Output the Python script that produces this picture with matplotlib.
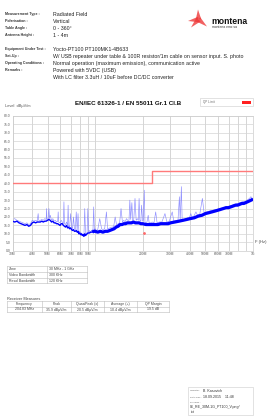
import matplotlib
matplotlib.use("Agg")
import matplotlib.pyplot as plt
from matplotlib.patches import Rectangle, Polygon
from matplotlib.lines import Line2D
import numpy as np

plt.rcParams['font.family'] = ['Liberation Sans', 'DejaVu Sans']

W, H = 270, 416

# ---------------- data ----------------
header_labels = ["Measurement Type :", "Polarisation :", "Table Angle :", "Antenna Height :"]
header_values = ["Radiated Field", "Vertical", "0 - 360°", "1 - 4m"]
eut_labels = ["Equipment Under Test :", "Set-Up :", "Operating Conditions :", "Remarks :", ""]
eut_values = ["Yocto-PT100 PT100MK1-4B633",
              "W/ USB repeater under table & 100R resistor/1m cable on sensor input. S. photo",
              "Normal operation (maximum emission), communication active",
              "Powered with 5VDC (USB)",
              "With LC filter 3.3uH / 10uF before DC/DC converter"]

title = "EN/IEC 61326-1 / EN 55011 Gr.1 Cl.B"
y_ticks = [0, 5, 10, 15, 20, 25, 30, 35, 40, 45, 50, 55, 60, 65, 70, 75, 80]
x_grid_mhz = [30, 40, 50, 60, 70, 80, 90, 100, 200, 300, 400, 500, 600, 700, 800, 900, 1000]
x_tick_mhz = [30, 40, 50, 60, 70, 80, 90, 200, 300, 400, 500, 600, 700, 1000]
x_tick_labels = ["30M", "40M", "50M", "60M", "70M", "80M", "90M", "200M", "300M",
                 "400M", "500M", "600M", "700M", "1G"]

limit_freq = [30, 230, 230, 1000]
limit_level = [40, 40, 47, 47]

peak_freq = [30, 31, 32, 33, 34, 35, 36, 37, 38, 39, 40, 41, 42, 43, 43.6, 44, 45, 46, 47, 48,
             49, 49.3, 49.6, 50.5, 51, 51.5, 52, 53, 54, 55, 56, 57, 58, 58.4, 58.8, 60, 61, 62,
             63, 63.5, 64, 65, 66, 67, 67.5, 68, 69, 70, 71, 72, 73, 74, 75, 76, 77, 78, 79, 80,
             81, 82, 83, 84, 85, 86, 87, 88, 89, 90, 91, 92, 93, 95, 97, 98, 99, 100, 102, 104,
             107, 110, 112, 115, 118, 120, 124, 128, 131, 134, 137, 140, 143, 146, 149, 152, 155,
             158, 161, 164, 166, 168, 171, 173, 176, 179, 182, 185, 188, 190, 192, 195, 197, 200,
             202, 204.83, 207, 210, 213, 217, 220, 225, 230, 236, 242, 247, 255, 265, 277, 285,
             295, 308, 315, 325, 335, 342, 346, 352, 356, 365, 375, 385, 395, 404, 410, 420, 435,
             445, 460, 478, 490, 510, 530, 560, 590, 620, 650, 680, 710, 740, 770, 800, 830, 860,
             890, 920, 950, 970, 985, 1000]
peak_level = [18.5, 19, 18, 17.5, 17, 16.5, 16, 16.5, 15.5, 16, 18, 17.5, 18, 17.5, 22, 18, 18,
              18.5, 18, 19, 18.5, 25, 18.5, 19, 25, 19, 21, 18, 19, 17.5, 18, 17, 17.5, 23, 17,
              16.5, 18, 17, 16, 29, 16, 15.5, 17, 15, 27, 15, 14, 22, 14, 13, 20, 13, 12.5, 23,
              12, 22, 11, 11.5, 10, 10.5, 9.5, 10, 9, 25, 10, 9.5, 11, 25, 11, 12, 11, 12, 12.5,
              26, 12, 13, 12, 12.5, 19, 13, 12.5, 13, 23, 13, 13.5, 14, 14, 20, 15, 16, 16.5, 25,
              17, 18, 17, 19, 18, 18, 30, 18.5, 28.5, 18, 19, 31, 18, 19, 18, 31, 18, 17.5, 27,
              17.5, 18, 35.9, 17, 16.5, 17, 21, 16.5, 16.5, 17, 16.5, 23, 16.5, 17, 17, 22, 17,
              17.5, 23, 17.5, 18, 18, 32, 18, 38, 18, 18.5, 19, 19.5, 19.5, 22, 20, 20, 23, 21,
              21.5, 31, 22.5, 23, 23.5, 24, 24.5, 25, 25.5, 26, 26.5, 27, 27.5, 28, 28.5, 29, 29,
              30, 31, 32, 31, 31]

avg_freq = [30, 31, 32, 33, 34, 35, 36, 37, 38, 39, 40, 41, 42, 43, 44, 45, 46, 47, 48, 49, 50,
            51, 52, 53, 54, 55, 56, 57, 58, 59, 60, 61, 62, 63, 64, 65, 66, 67, 68, 69, 70, 71,
            72, 73, 74, 75, 76, 77, 78, 79, 80, 81, 82, 83, 84, 85, 86, 87, 88, 89, 90, 92, 94,
            96, 98, 100, 104, 108, 112, 116, 120, 124, 128, 132, 136, 140, 144, 148, 152, 156,
            160, 165, 170, 175, 180, 185, 190, 195, 200, 210, 220, 230, 240, 250, 260, 270, 280,
            290, 300, 320, 340, 360, 380, 400, 425, 450, 475, 500, 525, 550, 575, 600, 625, 650,
            675, 700, 725, 750, 775, 800, 825, 850, 875, 900, 925, 950, 975, 1000]
avg_level = [17.5, 17, 17.5, 16.5, 16, 15.5, 15, 15.5, 14.5, 15, 16.5, 17, 16.5, 17, 17, 17,
             17.5, 17, 17.5, 17.5, 18, 18.5, 18, 17, 17.5, 16.5, 16.5, 16, 16, 15.5, 15, 16, 16,
             15, 14.5, 14, 15, 13.5, 14, 13, 13.5, 12.5, 12, 12.5, 11.5, 11.5, 12, 11, 11.5, 10,
             10.5, 9.5, 10, 9, 9.5, 8.5, 10, 9, 9.5, 10, 10.5, 10.5, 11, 11, 11.5, 11.5, 11,
             11.5, 11, 11.5, 11.5, 12, 12.5, 13, 14, 14.5, 15.5, 15.5, 16, 16, 16.5, 16.5, 16.5,
             17, 16.5, 16.5, 16.5, 16, 16, 15.5, 15.5, 15.5, 15.5, 15.5, 16, 16, 16, 16, 16.5,
             17, 17.5, 18, 18.5, 19, 19.5, 20.5, 21, 22, 22.5, 23, 23.5, 24, 24.5, 25, 25.5,
             25.5, 26, 26.5, 27, 27, 27.5, 28, 28, 28.5, 29, 29.5, 30, 30.5]

marker_freq = [204.83]
marker_avg = [10.4]

zone_rows = [["Zone", "30 MHz - 1 GHz"], ["Video Bandwidth", "300 KHz"],
             ["Resol Bandwidth", "120 KHz"]]
recv_header = ["Frequency", "Peak", "QuasiPeak (x)", "Average (+)", "QP Margin"]
recv_values = ["204.83 MHz", "35.9 dBµV/m", "20.5 dBµV/m", "10.4 dBµV/m", "19.5 dB"]

operator = "B. Kasovich"
datetime_str = "18.09.2015    11:48"
filename = ["06_RE_30M-1G_PT100_V.png/", "txt"]

# ---------------- figure ----------------
fig = plt.figure(figsize=(W / 100, H / 100), dpi=100)
fig.patch.set_facecolor("white")

def fx(x):
    return x / W

def fy(y):
    return 1 - y / H

TXT = "#222222"
LBL = "#333333"

# header
for i, (lab, val) in enumerate(zip(header_labels, header_values)):
    y = 14.3 + i * 7.0
    fig.text(fx(5), fy(y), lab, fontsize=2.6, color=LBL, va="center", weight="bold")
    fig.text(fx(53), fy(y), val, fontsize=3.8, color=TXT, va="center")
for i, (lab, val) in enumerate(zip(eut_labels, eut_values)):
    y = 49.3 + i * 7.0
    if lab:
        fig.text(fx(5), fy(y), lab, fontsize=2.6, color=LBL, va="center", weight="bold")
    fig.text(fx(53), fy(y), val, fontsize=3.8, color=TXT, va="center")

# logo
cx, cy = 198.5, 19.5
rays = [(188, 21), (198, 9.5), (207, 26.5), (191, 27.5)]
for (rx, ry) in rays:
    dx, dy = rx - cx, ry - cy
    L = (dx * dx + dy * dy) ** 0.5
    nx, ny = -dy / L * 2.8, dx / L * 2.8
    poly = Polygon([(fx(cx + nx), fy(cy + ny)), (fx(rx), fy(ry)), (fx(cx - nx), fy(cy - ny))],
                   closed=True, transform=fig.transFigure, facecolor="#ee3a3a",
                   edgecolor="none", alpha=0.8)
    fig.patches.append(poly)
fig.text(fx(211.5), fy(21.5), "montena", fontsize=6.2, weight="bold", color="#111111",
         va="center")
fig.text(fx(212), fy(27.5), "montena emc sa", fontsize=2.4, color="#333333", va="center")

# plot area
x0, x1, yt, yb = 12.5, 253, 115.7, 250.7
ax = fig.add_axes([fx(x0), fy(yb), (x1 - x0) / W, (yb - yt) / H])
ax.set_xscale("log")
ax.set_xlim(30, 1000)
ax.set_ylim(0, 80)
for f in x_grid_mhz:
    ax.axvline(f, color="#cfcfcf", lw=0.6, zorder=0)
for v in y_ticks:
    ax.axhline(v, color="#d5d5d5", lw=0.5, zorder=0)
ax.set_xticks(x_tick_mhz)
ax.set_xticklabels(x_tick_labels)
ax.xaxis.set_minor_locator(matplotlib.ticker.NullLocator())
ax.set_yticks(y_ticks)
ax.set_yticklabels(["%.1f" % v for v in y_ticks])
ax.tick_params(axis="both", length=0, labelsize=2.4, labelcolor="#555555", pad=1.2)
for s in ax.spines.values():
    s.set_color("#cccccc")
    s.set_linewidth(0.5)

af = np.array(avg_freq)
al = np.array(avg_level)
hi = af >= 95
ax.plot(peak_freq, peak_level, color="#7a7aff", lw=0.45, alpha=0.85, zorder=2)
ax.plot(af, al, color="#0000ff", lw=1.0, zorder=3)
ax.plot(af[hi], al[hi], color="#0000ff", lw=2.3, zorder=3, solid_capstyle="butt")
ax.plot(limit_freq, limit_level, color="#ff7a7a", lw=1.0, zorder=4)
ax.plot(marker_freq, marker_avg, marker="o", ms=1.0, color="#ff6a6a", lw=0, zorder=5)

# titles around plot
fig.text(fx(5), fy(105.5), "Level  dBµV/m", fontsize=2.8, color="#555555", va="center")
fig.text(fx(128), fy(103.3), title, fontsize=4.5, weight="bold", color="#111111",
         va="center", ha="center")
fig.patches.append(Rectangle((fx(200), fy(106)), (253 - 200) / W, 8 / H,
                             transform=fig.transFigure, facecolor="white",
                             edgecolor="#cccccc", lw=0.4))
fig.text(fx(203), fy(102), "QP Limit", fontsize=2.2, color="#666666", va="center")
fig.patches.append(Rectangle((fx(242), fy(103.5)), 9 / W, 3 / H,
                             transform=fig.transFigure, facecolor="#ff2020",
                             edgecolor="none"))
fig.text(fx(255), fy(242.5), "F (Hz)", fontsize=3.0, color="#444444", va="center")

# tables
def draw_table(xs, ys, rows, align="left", fs=2.5):
    for y in ys:
        fig.lines.append(Line2D([fx(xs[0]), fx(xs[-1])], [fy(y), fy(y)],
                                transform=fig.transFigure, color="#bbbbbb", lw=0.4))
    for x in xs:
        fig.lines.append(Line2D([fx(x), fx(x)], [fy(ys[0]), fy(ys[-1])],
                                transform=fig.transFigure, color="#bbbbbb", lw=0.4))
    for r, row in enumerate(rows):
        yc = (ys[r] + ys[r + 1]) / 2
        for c, txt in enumerate(row):
            if align == "left":
                fig.text(fx(xs[c] + 2), fy(yc), txt, fontsize=fs, color="#444444",
                         va="center", ha="left")
            else:
                fig.text(fx((xs[c] + xs[c + 1]) / 2), fy(yc), txt, fontsize=fs,
                         color="#444444", va="center", ha="center")

draw_table([6.7, 46.7, 87.3], [266, 272, 277.7, 283.3], zone_rows, "left")
fig.text(fx(7), fy(298.5), "Receiver Measures", fontsize=2.8, color="#444444", va="center")
draw_table([6.7, 41.7, 71, 104, 136.7, 169], [301, 306.7, 312.3],
           [recv_header, recv_values], "center")

# operator box
fig.patches.append(Rectangle((fx(187.7), fy(415)), (253.3 - 187.7) / W, (415 - 387.3) / H,
                             transform=fig.transFigure, facecolor="white",
                             edgecolor="#cccccc", lw=0.4))
fig.text(fx(189.5), fy(390.5), "Operator :", fontsize=1.6, color="#666666", va="center")
fig.text(fx(202.7), fy(390.5), operator, fontsize=2.6, color="#333333", va="center")
fig.text(fx(189.5), fy(397.3), "Date/Time :", fontsize=1.6, color="#666666", va="center")
fig.text(fx(202.7), fy(397.3), datetime_str, fontsize=2.6, color="#333333", va="center")
fig.text(fx(189.5), fy(402.7), "Filename :", fontsize=1.6, color="#666666", va="center")
fig.text(fx(189.5), fy(407.3), filename[0], fontsize=2.6, color="#333333", va="center")
fig.text(fx(190.5), fy(411.7), filename[1], fontsize=2.6, color="#333333", va="center")

fig.savefig("out.png", dpi=100)
